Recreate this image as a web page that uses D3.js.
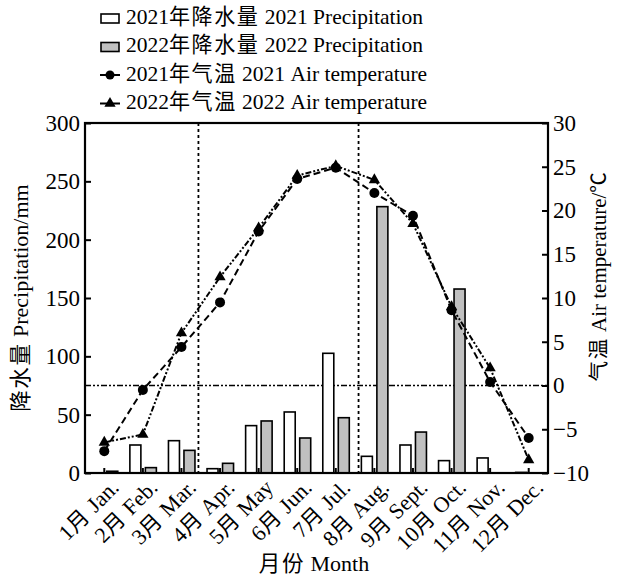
<!DOCTYPE html>
<html lang="zh">

<head>
    <meta charset="UTF-8">
    <title>降水量与气温</title>
    <style>
        body {
            margin: 0;
            background: #fff;
        }

        svg text {
            font-family: "Liberation Serif", "Noto Sans CJK SC", serif;
            fill: #000;
        }
    </style>
</head>

<body>
    <svg id="chart"></svg>

    <script src="https://cdnjs.cloudflare.com/ajax/libs/d3/7.9.0/d3.min.js"></script>
    <script>
        // data
        const months = ["1月  Jan.", "2月  Feb.", "3月  Mar.", "4月  Apr.", "5月  May", "6月  Jun.",
            "7月  Jul.", "8月  Aug.", "9月  Sept.", "10月  Oct.", "11月  Nov.", "12月  Dec."];
        const precip2021 = [0, 24, 27.7, 3.7, 40.6, 52.3, 102.6, 14.3, 24, 10.6, 12.9, 0.5];
        const precip2022 = [1.5, 4.6, 19.4, 8.3, 44.6, 30, 47.4, 228.3, 35.1, 157.7, 0, 0];
        const temp2021 = [-7.5, -0.5, 4.4, 9.5, 17.6, 23.6, 24.9, 22.0, 19.4, 8.6, 0.4, -6.0];
        const temp2022 = [-6.5, -5.6, 6.0, 12.4, 18.0, 24.0, 25.1, 23.5, 18.5, 9.0, 2.0, -8.5];
        const precipTicks = [0, 50, 100, 150, 200, 250, 300];
        const tempTicks = [-10, -5, 0, 5, 10, 15, 20, 25, 30];
        // season dividers, in month-index units
        const dividers = [2.44, 6.59];
        const legendLabels = ["2021年降水量 2021 Precipitation", "2022年降水量 2022 Precipitation",
            "2021年气温 2021 Air temperature", "2022年气温 2022 Air temperature"];

        const W = 626, H = 576;
        const m = { left: 85, right: 548, top: 123, bottom: 473 };

        const svg = d3.select("#chart").attr("width", W).attr("height", H);

        const x = d3.scaleBand().domain(d3.range(12)).range([m.left, m.right]).padding(0);
        const xc = i => x(i) + x.bandwidth() / 2;
        const xi = d3.scaleLinear().domain([-0.5, 11.5]).range([m.left, m.right]);
        const yP = d3.scaleLinear().domain([0, 300]).range([m.bottom, m.top]);
        const yT = d3.scaleLinear().domain([-10, 30]).range([m.bottom, m.top]);

        // split text into CJK / latin runs so the Chinese can be set a bit larger
        function richText(sel, str, size) {
            const runs = str.match(/[\u3000-\u9fff\uff00-\uffef℃]+|[^\u3000-\u9fff\uff00-\uffef℃]+/g);
            runs.forEach(r => {
                const cjk = /[\u3000-\u9fff℃]/.test(r);
                sel.append("tspan")
                    .attr("font-family", cjk ? "Noto Sans CJK SC" : "Liberation Serif")
                    .attr("font-size", cjk ? size * 0.98 : size)
                    .attr("letter-spacing", cjk ? 1.5 : 0)
                    .text(r);
            });
        }

        // reference lines
        svg.append("line")
            .attr("x1", m.left).attr("x2", m.right)
            .attr("y1", yT(0)).attr("y2", yT(0))
            .attr("stroke", "#000").attr("stroke-width", 1.6)
            .attr("stroke-dasharray", "6,2,2,2,2,2");

        svg.selectAll(".divider").data(dividers).enter().append("line")
            .attr("x1", d => xi(d)).attr("x2", d => xi(d))
            .attr("y1", m.top).attr("y2", m.bottom)
            .attr("stroke", "#000").attr("stroke-width", 1.8)
            .attr("stroke-dasharray", "3,3");

        // bars
        const bw = 11;
        svg.selectAll(".b21").data(precip2021).enter().append("rect")
            .attr("x", (d, i) => xc(i) - 2 - bw)
            .attr("y", d => yP(d))
            .attr("width", bw)
            .attr("height", d => yP(0) - yP(d))
            .attr("fill", "#fff").attr("stroke", "#000").attr("stroke-width", 1.6);

        svg.selectAll(".b22").data(precip2022).enter().append("rect")
            .attr("x", (d, i) => xc(i) + 2.5)
            .attr("y", d => yP(d))
            .attr("width", bw)
            .attr("height", d => yP(0) - yP(d))
            .attr("fill", "#c0c0c0").attr("stroke", "#000").attr("stroke-width", 1.6);

        // temperature lines
        const line = d3.line().x((d, i) => xc(i)).y(d => yT(d));
        svg.append("path").datum(temp2021)
            .attr("d", line).attr("fill", "none")
            .attr("stroke", "#000").attr("stroke-width", 2)
            .attr("stroke-dasharray", "7,4");
        svg.append("path").datum(temp2022)
            .attr("d", line).attr("fill", "none")
            .attr("stroke", "#000").attr("stroke-width", 2)
            .attr("stroke-dasharray", "6,2,2,2,2,2");

        svg.selectAll(".c21").data(temp2021).enter().append("circle")
            .attr("cx", (d, i) => xc(i)).attr("cy", d => yT(d)).attr("r", 5);
        const tri = d3.symbol().type(d3.symbolTriangle).size(55);
        svg.selectAll(".t22").data(temp2022).enter().append("path")
            .attr("d", tri)
            .attr("transform", (d, i) => `translate(${xc(i)},${yT(d)})`);

        // bottom inner ticks
        svg.selectAll(".xt").data(d3.range(12)).enter().append("line")
            .attr("x1", i => xc(i)).attr("x2", i => xc(i))
            .attr("y1", m.bottom).attr("y2", m.bottom - 5)
            .attr("stroke", "#000").attr("stroke-width", 2);

        // axes
        const left = svg.append("g").attr("transform", `translate(${m.left},0)`)
            .call(d3.axisRight(yP).tickValues(precipTicks).tickSize(6).tickFormat(d3.format("d")));
        left.selectAll("text").attr("x", -5).attr("text-anchor", "end").attr("font-size", 23);

        const right = svg.append("g").attr("transform", `translate(${m.right},0)`)
            .call(d3.axisLeft(yT).tickValues(tempTicks).tickSize(6).tickFormat(d => d < 0 ? "\u2212" + Math.abs(d) : d));
        right.selectAll("text").attr("x", 5).attr("text-anchor", "start").attr("font-size", 23);

        [left, right].forEach(g => {
            g.select(".domain").remove();
            g.selectAll("line").attr("stroke", "#000").attr("stroke-width", 2);
            g.selectAll("text").attr("font-family", "Liberation Serif").attr("fill", "#000");
        });

        svg.append("rect")
            .attr("x", m.left).attr("y", m.top)
            .attr("width", m.right - m.left).attr("height", m.bottom - m.top)
            .attr("fill", "none").attr("stroke", "#000").attr("stroke-width", 2.2);

        // month labels
        svg.selectAll(".ml").data(months).enter().append("text")
            .attr("text-anchor", "end")
            .attr("transform", (d, i) => `translate(${xc(i) + 8},${m.bottom + 8}) rotate(-45)`)
            .attr("dy", "0.7em")
            .each(function (d) { richText(d3.select(this), d, 22); });

        // axis titles
        richText(svg.append("text").attr("text-anchor", "middle")
            .attr("transform", `translate(314,${H - 5})`), "月份 Month", 22);
        richText(svg.append("text").attr("text-anchor", "middle")
            .attr("transform", `translate(28,298) rotate(-90)`), "降水量 Precipitation/mm", 22);
        richText(svg.append("text").attr("text-anchor", "middle")
            .attr("transform", `translate(606,276) rotate(-90)`), "气温 Air temperature/℃", 21);

        // legend
        const leg = svg.append("g").attr("transform", "translate(100,18)");
        const rowH = 28.5;
        leg.selectAll("text").data(legendLabels).enter().append("text")
            .attr("x", 26).attr("y", (d, i) => i * rowH).attr("dy", "0.35em")
            .each(function (d) { richText(d3.select(this), d, 21.5); });
        leg.append("rect").attr("x", 1).attr("y", -4).attr("width", 18).attr("height", 9)
            .attr("fill", "#fff").attr("stroke", "#000").attr("stroke-width", 1.6);
        leg.append("rect").attr("x", 1).attr("y", rowH - 4).attr("width", 18).attr("height", 9)
            .attr("fill", "#c0c0c0").attr("stroke", "#000").attr("stroke-width", 1.6);
        [2, 3].forEach(r => {
            leg.append("line").attr("x1", 0).attr("x2", 20)
                .attr("y1", r * rowH).attr("y2", r * rowH)
                .attr("stroke", "#000").attr("stroke-width", 2);
        });
        leg.append("circle").attr("cx", 10).attr("cy", 2 * rowH).attr("r", 4.5);
        leg.append("path").attr("d", tri).attr("transform", `translate(10,${3 * rowH})`);
    </script>
</body>

</html>
